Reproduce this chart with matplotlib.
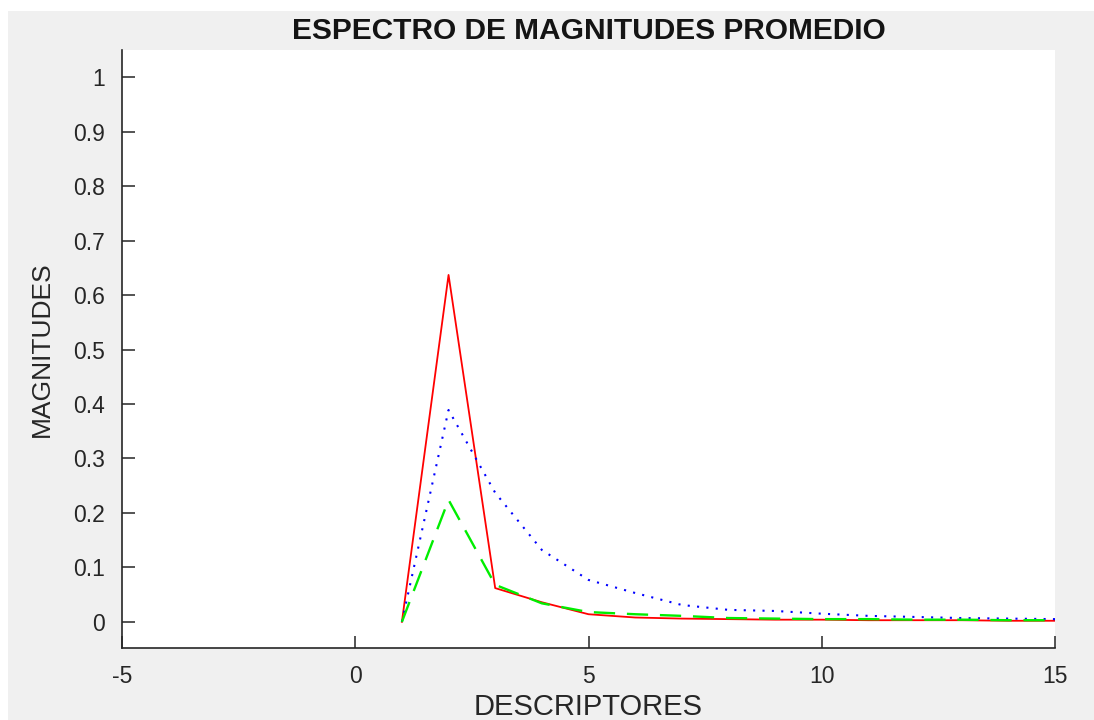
import numpy as np
import matplotlib
matplotlib.use("Agg")
import matplotlib.pyplot as plt
from matplotlib.patches import Rectangle

plt.rcParams['font.family'] = ['Liberation Sans', 'DejaVu Sans']

# descriptores 1..15 y magnitudes promedio de cada clase
descriptores = np.arange(1, 16)
mag_rojo = [0.0, 0.637, 0.062, 0.036, 0.014, 0.008, 0.006, 0.005, 0.004,
            0.004, 0.003, 0.003, 0.003, 0.002, 0.002]
mag_azul = [0.0, 0.389, 0.237, 0.132, 0.077, 0.053, 0.031, 0.022, 0.020,
            0.015, 0.011, 0.009, 0.007, 0.006, 0.005]
mag_verde = [0.0, 0.224, 0.068, 0.034, 0.018, 0.014, 0.011, 0.007, 0.006,
             0.005, 0.005, 0.004, 0.004, 0.003, 0.003]

xticks = [-5, 0, 5, 10, 15]
yticks = np.round(np.arange(0, 1.01, 0.1), 1)
ytick_labels = ['0'] + [f'{v:g}' for v in yticks[1:]]

fig = plt.figure(figsize=(10.94, 7.2), dpi=100)
fig.patch.set_facecolor('white')
fig.patches.append(Rectangle((8 / 1094, 0), 1 - 8 / 1094, 1 - 11 / 720,
                             transform=fig.transFigure, facecolor='#f0f0f0',
                             edgecolor='none', zorder=-10))

ax = fig.add_axes([122 / 1094, 72 / 720, 933 / 1094, 598 / 720])
ax.set_facecolor('white')

ax.plot(descriptores, mag_rojo, color='#ff0000', lw=1.3, ls='-')
ax.plot(descriptores, mag_azul, color='#0000ff', lw=1.5, ls=(0, (1, 3.5)))
ax.plot(descriptores, mag_verde, color='#00ee00', lw=1.7, ls=(0, (9, 5)))

ax.set_xlim(-5, 15)
ax.set_ylim(-0.048, 1.05)
ax.set_xticks(xticks)
ax.set_xticklabels([str(v) for v in xticks])
ax.set_yticks(yticks)
ax.set_yticklabels(ytick_labels)

for s in ['top', 'right']:
    ax.spines[s].set_visible(False)
for s in ['left', 'bottom']:
    ax.spines[s].set_color('#262626')
    ax.spines[s].set_linewidth(1.2)

ax.tick_params(direction='in', length=9, width=1.1, colors='#262626',
               labelsize=16.5, pad=12)
ax.tick_params(axis='y', pad=12)

ax.set_title('ESPECTRO DE MAGNITUDES PROMEDIO', fontsize=21.5,
             fontweight='bold', color='#141414', pad=8)
ax.set_xlabel('DESCRIPTORES', fontsize=21, color='#262626', labelpad=4)
ax.set_ylabel('MAGNITUDES', fontsize=19, color='#262626', labelpad=14)

fig.savefig('out.png', dpi=100, facecolor=fig.get_facecolor())
